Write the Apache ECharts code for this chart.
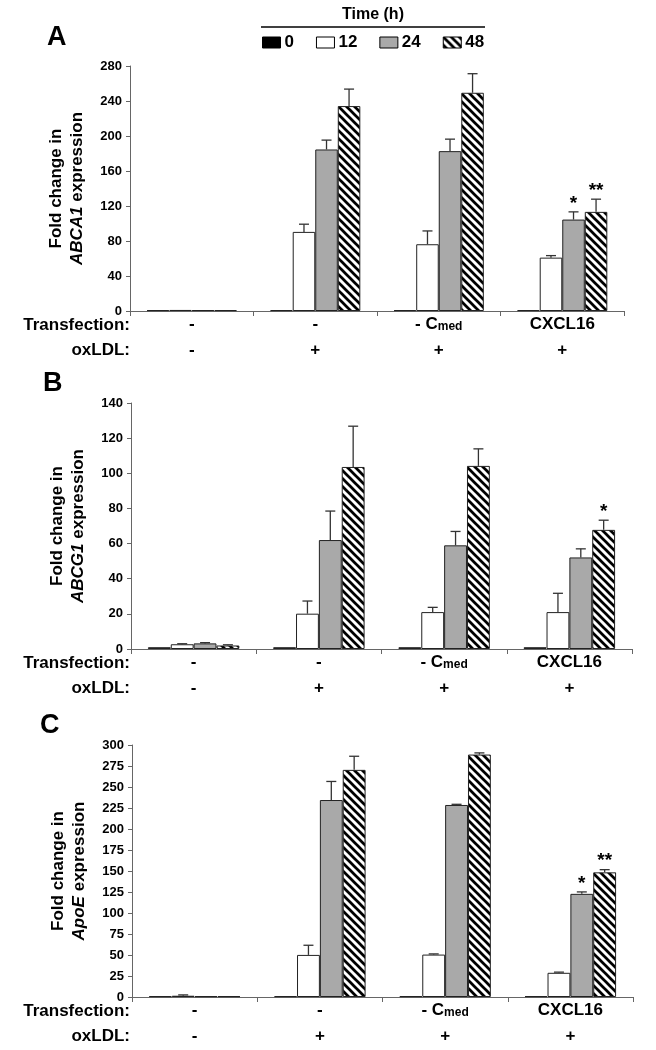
<!DOCTYPE html>
<html><head><meta charset="utf-8">
<script src="https://cdn.jsdelivr.net/npm/echarts@6/dist/echarts.min.js"></script>
<style>html,body{margin:0;padding:0;background:#fff}#c{width:656px;height:1050px}</style>
</head><body><div id="c"></div><script>
// ---------- data ----------
const categories = ['g1', 'g2', 'g3', 'g4'];
const transfection = ['-', '-', '- C_med', 'CXCL16'];
const oxLDL = ['-', '+', '+', '+'];
const times = ['0', '12', '24', '48'];

// Panel A: ABCA1
const A_t0  = [1, 1, 1, 1];
const A_t12 = [1.2, 90.4, 76.3, 61];
const A_t24 = [1.1, 184.6, 182.7, 104.5];
const A_t48 = [1, 234.2, 249.4, 113.3];
const A_e0  = [0, 0, 0, 0];
const A_e12 = [0, 8.8, 15.2, 2.3];
const A_e24 = [0, 10.7, 13.7, 8.8];
const A_e48 = [0, 19.4, 21.8, 14.5];
const A_sig24 = ['', '', '', '*'];
const A_sig48 = ['', '', '', '**'];
const A_ticks = [0, 280, 40];

// Panel B: ABCG1
const B_t0  = [1, 1, 1, 1];
const B_t12 = [2.7, 20.1, 21.0, 21.0];
const B_t24 = [3.2, 62, 59.0, 52.1];
const B_t48 = [2.0, 103.6, 104.2, 67.8];
const B_e0  = [0, 0, 0, 0];
const B_e12 = [0.3, 7.2, 2.7, 10.7];
const B_e24 = [0.4, 16.5, 7.9, 4.9];
const B_e48 = [0.4, 23.2, 9.7, 5.5];
const B_sig24 = ['', '', '', ''];
const B_sig48 = ['', '', '', '*'];
const B_ticks = [0, 140, 20];

// Panel C: ApoE
const C_t0  = [1, 1, 1, 1];
const C_t12 = [1.5, 50.1, 50.5, 28.8];
const C_t24 = [1, 234.5, 228.6, 122.8];
const C_t48 = [1, 270.4, 288.6, 148.4];
const C_e0  = [0, 0, 0, 0];
const C_e12 = [1, 11.5, 0.8, 0.8];
const C_e24 = [0, 22.1, 0.8, 2.3];
const C_e48 = [0, 16.2, 2, 3.2];
const C_sig24 = ['', '', '', '*'];
const C_sig48 = ['', '', '', '**'];
const C_ticks = [0, 300, 25];

// ---------- styling ----------
const FONT = '"Liberation Sans", Arial, Helvetica, sans-serif';
function hatchCanvas() {
  const c = document.createElement('canvas');
  c.width = 8; c.height = 8;
  const g = c.getContext('2d');
  g.fillStyle = '#fff'; g.fillRect(0, 0, 8, 8);
  g.strokeStyle = '#000'; g.lineWidth = 2.7;
  for (const k of [-8, 0, 8]) {
    g.beginPath(); g.moveTo(-2, -2 + k); g.lineTo(10, 10 + k); g.stroke();
  }
  return c;
}
const fills = ['#000000', '#ffffff', '#a9a9a9', { image: hatchCanvas(), repeat: 'repeat' }];
const CAT_GAP = 0.27;

const panels = [
  { grid: { left: 130, right: 32, top: 66, height: 245 }, ticks: A_ticks, gene: 'ABCA1',
    vals: [A_t0, A_t12, A_t24, A_t48], errs: [A_e0, A_e12, A_e24, A_e48], sig: [null, null, A_sig24, A_sig48],
    letter: 'A', lpos: [56, 38] },
  { grid: { left: 131, right: 24, top: 403, height: 246 }, ticks: B_ticks, gene: 'ABCG1',
    vals: [B_t0, B_t12, B_t24, B_t48], errs: [B_e0, B_e12, B_e24, B_e48], sig: [null, null, B_sig24, B_sig48],
    letter: 'B', lpos: [52, 384] },
  { grid: { left: 132, right: 23, top: 745, height: 252 }, ticks: C_ticks, gene: 'ApoE',
    vals: [C_t0, C_t12, C_t24, C_t48], errs: [C_e0, C_e12, C_e24, C_e48], sig: [null, null, C_sig24, C_sig48],
    letter: 'C', lpos: [49, 726] }
];

const grids = [], xAxes = [], yAxes = [], series = [], graphics = [];

function xFormatter(val, idx) {
  const parts = transfection[idx].split('_');
  let s = '{t|' + parts[0] + '}';
  if (parts[1]) s += '{sub|' + parts[1] + '}';
  return s + '\n{o|' + oxLDL[idx] + '}';
}

panels.forEach((p, k) => {
  grids.push(Object.assign({ outerBoundsMode: 'none', containLabel: false }, p.grid));
  xAxes.push({
    type: 'category', gridIndex: k, data: categories, boundaryGap: true,
    axisLine: { show: true, lineStyle: { color: '#666', width: 1 } },
    axisTick: { show: true, length: 5, alignWithLabel: false, lineStyle: { color: '#666' } },
    splitLine: { show: false },
    axisLabel: {
      interval: 0, margin: 0, formatter: xFormatter, color: '#000',
      rich: {
        t: { fontFamily: FONT, fontSize: 17, fontWeight: 'bold', color: '#000', lineHeight: 22, verticalAlign: 'bottom' },
        sub: { fontFamily: FONT, fontSize: 12, fontWeight: 'bold', color: '#000', lineHeight: 22, verticalAlign: 'bottom' },
        o: { fontFamily: FONT, fontSize: 17, fontWeight: 'bold', color: '#000', lineHeight: 34, verticalAlign: 'middle' }
      }
    }
  });
  yAxes.push({
    type: 'value', gridIndex: k, min: p.ticks[0], max: p.ticks[1], interval: p.ticks[2],
    axisLine: { show: true, lineStyle: { color: '#666', width: 1 } },
    axisTick: { show: true, length: 4, lineStyle: { color: '#666' } },
    splitLine: { show: false },
    axisLabel: { fontFamily: FONT, fontSize: 13, fontWeight: 'bold', color: '#000', margin: 8 },
    name: 'Fold change in\n{i|' + p.gene + '} expression',
    nameLocation: 'middle', nameRotate: 90, nameGap: 42,
    nameTextStyle: {
      fontFamily: FONT, fontSize: 17, fontWeight: 'bold', color: '#000', lineHeight: 21,
      rich: { i: { fontFamily: FONT, fontSize: 17, fontWeight: 'bold', fontStyle: 'italic', color: '#000', lineHeight: 21 } }
    }
  });
  times.forEach((t, s) => {
    series.push({
      type: 'bar', name: t, xAxisIndex: k, yAxisIndex: k, data: p.vals[s],
      barGap: '0%', barCategoryGap: (CAT_GAP * 100) + '%',
      itemStyle: { color: fills[s], borderColor: '#222', borderWidth: 1 },
      emphasis: { disabled: true }, silent: true
    });
  });
  const rows = [];
  times.forEach((t, s) => {
    p.vals[s].forEach((v, c) => rows.push([c, v, p.errs[s][c], s]));
  });
  series.push({
    type: 'custom', xAxisIndex: k, yAxisIndex: k, data: rows, z: 10, silent: true,
    encode: { x: 0, y: 1 },
    renderItem: (params, api) => {
      const c = api.value(0), v = api.value(1), e = api.value(2), s = api.value(3);
      const band = api.size([1, 0])[0];
      const bw = band * (1 - CAT_GAP) / 4;
      const cx = api.coord([c, 0])[0] + (s - 1.5) * bw;
      const yb = api.coord([c, v])[1];
      const yt = api.coord([c, v + e])[1];
      const children = [];
      if (e > 0) {
        children.push({ type: 'line', shape: { x1: cx, y1: yb, x2: cx, y2: yt }, style: { stroke: '#333', lineWidth: 1.3 } });
        children.push({ type: 'line', shape: { x1: cx - 5, y1: yt, x2: cx + 5, y2: yt }, style: { stroke: '#333', lineWidth: 1.3 } });
      }
      const sg = p.sig[s] ? p.sig[s][c] : '';
      if (sg) {
        children.push({ type: 'text', style: { text: sg, x: cx, y: yt + 1, align: 'center', verticalAlign: 'bottom',
          font: 'bold 19px ' + FONT, fill: '#000' } });
      }
      return { type: 'group', children };
    }
  });
  const axisY = p.grid.top + p.grid.height;
  graphics.push({ type: 'text', left: p.lpos[0] - 9, top: p.lpos[1] - 14,
    style: { text: p.letter, font: 'bold 27px ' + FONT, fill: '#000' } });
  graphics.push({ type: 'text', x: 130, y: axisY + 14,
    style: { text: 'Transfection:', font: 'bold 17px ' + FONT, fill: '#000', align: 'right', verticalAlign: 'middle' } });
  graphics.push({ type: 'text', x: 130, y: axisY + 39,
    style: { text: 'oxLDL:', font: 'bold 17px ' + FONT, fill: '#000', align: 'right', verticalAlign: 'middle' } });
});

graphics.push({ type: 'text', x: 373, y: 15,
  style: { text: 'Time (h)', font: 'bold 16px ' + FONT, fill: '#000', align: 'center', verticalAlign: 'middle' } });
graphics.push({ type: 'line', shape: { x1: 261, y1: 27, x2: 485, y2: 27 }, style: { stroke: '#000', lineWidth: 1.6 } });

const chart = echarts.init(document.getElementById('c'), null, { renderer: 'canvas' });
chart.setOption({
  animation: false,
  backgroundColor: '#fff',
  grid: grids, xAxis: xAxes, yAxis: yAxes, series: series,
  legend: {
    data: times, left: 262, top: 34, padding: 0, itemWidth: 18, itemHeight: 11, itemGap: 22,
    icon: 'rect', selectedMode: false,
    itemStyle: { borderColor: '#000', borderWidth: 1 },
    textStyle: { fontFamily: FONT, fontSize: 17, fontWeight: 'bold', color: '#000', padding: [0, 0, 0, -1] }
  },
  graphic: graphics
});
</script></body></html>
